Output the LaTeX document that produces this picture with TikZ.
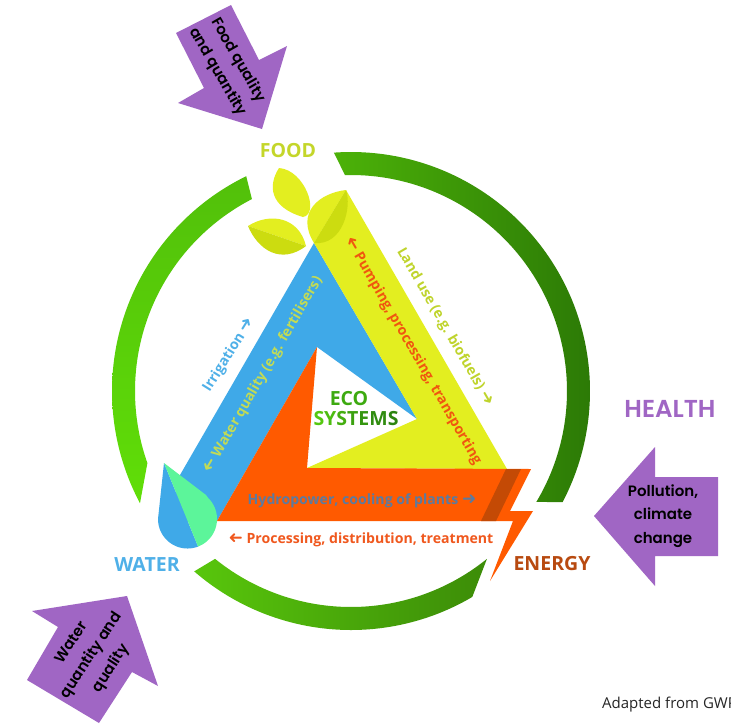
\documentclass[tikz,border=0pt]{standalone}
\usepackage{graphicx}
\usepackage{fontspec}
\setmainfont{Open Sans}
\newfontfamily\popf{Poppins}[BoldFont={Poppins SemiBold}]
\newfontfamily\arrowf{DejaVu Sans}
\definecolor{cblue}{HTML}{3FA9E8}
\definecolor{corange}{HTML}{FF5A00}
\definecolor{cyellow}{HTML}{E3EE20}
\definecolor{cleaf}{HTML}{CCDC10}
\definecolor{cpurple}{HTML}{A066C4}
\definecolor{cbrown}{HTML}{C44A05}
\definecolor{cdropg}{HTML}{5CF59A}
\definecolor{cfood}{HTML}{C4D62A}
\definecolor{cwater}{HTML}{4FB0E8}
\definecolor{cenergy}{HTML}{B84A10}
\definecolor{cwq}{HTML}{C2DB55}
\definecolor{cpump}{HTML}{F0560F}
\definecolor{cland}{HTML}{BFD42C}
\definecolor{chydro}{HTML}{5B7BA0}
\definecolor{cproc}{HTML}{F0581E}
\newcommand{\arL}{\smash{\reflectbox{\fontsize{17}{17}\selectfont\arrowf ➜}}}
\newcommand{\arR}{\smash{\fontsize{17}{17}\selectfont\arrowf ➜}}
\tikzset{
  x=1pt,y=-1pt,
  band/.style={font=\fontsize{14.1}{16}\selectfont\bfseries,inner sep=0pt},
  title/.style={font=\fontsize{19.5}{22}\selectfont\bfseries,inner sep=0pt},
  arrowtext/.style={font=\fontsize{15}{23.5}\selectfont\popf\bfseries,align=center,inner sep=0pt,text=black},
  purplearrow/.style={fill=cpurple,draw=none},
  leaflight/.style={fill=cyellow,draw=none},
  leafdark/.style={fill=cleaf,draw=none}
}
\begin{document}
\begin{tikzpicture}
\clip (0,0) rectangle (731,724);
\fill[white] (0,0) rectangle (731,724);
% ring
\shade[left color={rgb,255:red,76;green,178;blue,8},right color={rgb,255:red,44;green,122;blue,6}]
  plot[domain=94.1:-27.7,samples=90] ({351+239*cos(\x)},{391-239*sin(\x)})
  -- plot[domain=-30.9:91.6,samples=90] ({351+216*cos(\x)},{391-216*sin(\x)}) -- cycle;
\shade[top color={rgb,255:red,82;green,192;blue,10},bottom color={rgb,255:red,96;green,222;blue,8}]
  plot[domain=116:208,samples=90] ({351+239*cos(\x)},{391-239*sin(\x)})
  -- plot[domain=199.5:117.3,samples=90] ({351+216*cos(\x)},{391-216*sin(\x)}) -- cycle;
\shade[left color={rgb,255:red,88;green,198;blue,12},right color={rgb,255:red,60;green,140;blue,8}]
  plot[domain=229:300.5,samples=90] ({351+239*cos(\x)},{391-239*sin(\x)})
  -- plot[domain=309:231,samples=90] ({351+216*cos(\x)},{391-216*sin(\x)}) -- cycle;
% triangle bands
\fill[cblue] (314,243) -- (417,419) -- (317,347) -- (217,521) -- (170,521) -- (180,475) -- cycle;
\fill[cyellow] (346,190) -- (507,469) -- (307,468) -- (417,419) -- (314,243) -- cycle;
\fill[corange] (317,347) -- (307,468) -- (531,469) -- (510,511) -- (533,511) -- (490,581) -- (513,521) -- (217,521) -- cycle;
\fill[cbrown] (506,469) -- (521,469) -- (496,521) -- (481,521) -- cycle;
% drop
\fill[cblue] (164,463) -- (158,519)
  -- plot[domain=180:291,samples=40] ({187.5+29.5*cos(\x)},{519-29.5*sin(\x)}) -- cycle;
\fill[cdropg] (164,463) -- (206,495)
  -- plot[domain=405:291,samples=40] ({187.5+29.5*cos(\x)},{519-29.5*sin(\x)}) -- cycle;
% leaves
\fill[leaflight] (279,168) .. controls (268,185) and (269,207) .. (303,217) .. controls (320,214) and (305,170) .. (279,168) -- cycle;
\fill[leaflight] (248,226) .. controls (270,212) and (299,217) .. (306,246) -- cycle;
\fill[leafdark] (248,226) .. controls (258,250) and (281,265) .. (306,246) -- cycle;
\fill[leaflight] (346,190) .. controls (320,193) and (295,212) .. (314,243) -- cycle;
\fill[leafdark] (346,190) .. controls (352,207) and (343,246) .. (314,243) -- cycle;
% purple arrows
\fill[purplearrow] (231,5) -- (259,60) -- (287,46) -- (262,129) -- (178,103) -- (204,88) -- (176,33) -- cycle;
\fill[purplearrow] (127,596) -- (158,686) -- (132,672) -- (99,723) -- (27,680) -- (58,627) -- (32,611) -- cycle;
\fill[purplearrow] (594,516) -- (655,447) -- (655,477) -- (718,477) -- (718,556) -- (655,556) -- (655,586) -- cycle;
% labels
\node[arrowtext,rotate=-60] (foodq) at (228,66) {Food quality\\and quantity};
\node[arrowtext,rotate=57] (waterq) at (92,656) {Water\\quantity and\\quality};
\node[arrowtext] (poll) at (663,516) {Pollution,\\climate\\change};
\node[title,text=cfood] (food) at (288,151) {FOOD};
\node[title,text=cwater] (water) at (147,564) {WATER};
\node[title,text=cenergy] (energy) at (552,564) {ENERGY};
\node[font=\fontsize{24.5}{26}\selectfont\popf\bfseries,inner sep=0pt,text=cpurple] (health) at (670,409) {HEALTH};
\node[band,text=cwater,rotate=58] (irr) at (229,355) {Irrigation \arR};
\node[band,text=cwq,rotate=60] (wq) at (263,375) {\arL{} Water quality (e.g. fertilisers)};
\node[band,text=cpump,rotate=-60] (pump) at (413,351) {\arL{} Pumping, processing, transporting};
\node[band,text=cland,rotate=-60] (land) at (445,327) {Land use (e.g. biofuels) \arR};
\node[band,text=chydro] (hydro) at (362,500.5) {Hydropower, cooling of plants \arR};
\node[band,text=cproc] (proc) at (361,539.5) {\arL{} Processing, distribution, treatment};
\node[font=\fontsize{19.5}{22}\selectfont\bfseries,inner sep=0pt,text={rgb,255:red,61;green,170;blue,16}] (eco) at (349,399) {ECO};
\node[font=\fontsize{19.5}{22}\selectfont\bfseries,inner sep=0pt] (sys) at (356,419) {\textcolor[HTML]{55C810}{S}\textcolor[HTML]{4CBC10}{Y}\textcolor[HTML]{44AE10}{S}\textcolor[HTML]{3CA210}{T}\textcolor[HTML]{369610}{E}\textcolor[HTML]{308C10}{M}\textcolor[HTML]{2C8410}{S}};
\node[font=\fontsize{15}{17}\selectfont,inner sep=0pt,anchor=west,text=black!85] (src) at (602,705) {Adapted from GWP};
\end{tikzpicture}
\end{document}
